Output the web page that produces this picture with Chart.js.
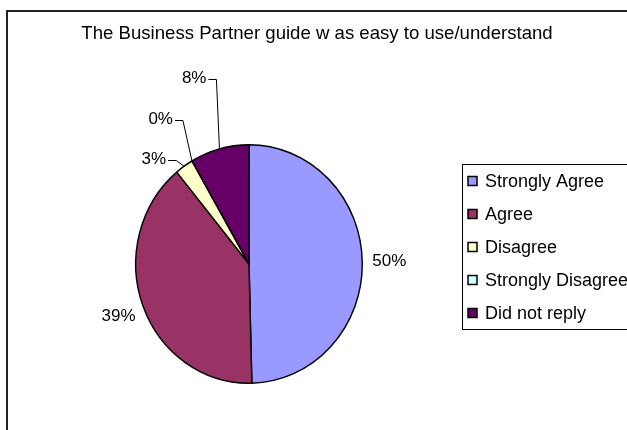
<!DOCTYPE html>
<html>
<head>
<meta charset="utf-8">
<script src="https://cdn.jsdelivr.net/npm/chart.js@4"></script>
<style>
html, body { margin: 0; padding: 0; background: #fff; }
#wrap { width: 627px; height: 430px; }
</style>
</head>
<body>
<div id="wrap"><canvas id="pie-chart" width="627" height="430"></canvas></div>
<script>
const categories = ["Strongly Agree", "Agree", "Disagree", "Strongly Disagree", "Did not reply"];
const shares = [49.6, 39.4, 2.6, 0, 8.4];
const sliceColors = ["#9999FF", "#993366", "#FFFFCC", "#CCFFFF", "#660066"];
const chartTitle = "The Business Partner guide w as easy to use/understand";

const FONT = "Arial, 'Liberation Sans', sans-serif";
const squash = 0.95; // the pie in the original is a little narrower than it is tall

const excelLook = {
	id: "excelLook",
	beforeDraw(chart) {
		const ctx = chart.ctx;
		ctx.save();
		ctx.fillStyle = "#fff";
		ctx.fillRect(0, 0, chart.width, chart.height);
		// chart frame, only left and top edges are inside the picture
		ctx.strokeStyle = "#222";
		ctx.lineWidth = 2;
		ctx.beginPath();
		ctx.moveTo(7, chart.height + 5);
		ctx.lineTo(7, 11);
		ctx.lineTo(chart.width + 5, 11);
		ctx.stroke();
		ctx.fillStyle = "#000";
		ctx.font = "18.6px " + FONT;
		ctx.textAlign = "center";
		ctx.textBaseline = "alphabetic";
		ctx.fillText(chartTitle, 317, 39);
		ctx.restore();
	},
	beforeDatasetsDraw(chart) {
		const { ctx, chartArea } = chart;
		const cx = (chartArea.left + chartArea.right) / 2;
		ctx.save();
		ctx.translate(cx, 0);
		ctx.scale(squash, 1);
		ctx.translate(-cx, 0);
	},
	afterDatasetsDraw(chart) {
		chart.ctx.restore();
	},
	afterDraw(chart, args, opts) {
		const ctx = chart.ctx;
		const meta = chart.getDatasetMeta(0);
		const total = shares.reduce((a, b) => a + b, 0);
		ctx.save();
		ctx.font = "17px " + FONT;
		ctx.fillStyle = "#000";
		ctx.strokeStyle = "#000";
		ctx.lineWidth = 1;

		// value labels
		meta.data.forEach((arc, i) => {
			const p = arc.getProps(["x", "y", "startAngle", "endAngle", "outerRadius"], true);
			const mid = (p.startAngle + p.endAngle) / 2;
			const cos = Math.cos(mid);
			const sin = Math.sin(mid);
			const ax = p.x + cos * p.outerRadius * squash;
			const ay = p.y + sin * p.outerRadius;
			const text = Math.round((shares[i] / total) * 100) + "%";
			const leader = opts.leaders[i];
			if (leader) {
				const right = ax + leader[0];
				const ty = ay + leader[1];
				ctx.textAlign = "right";
				ctx.textBaseline = "middle";
				ctx.fillText(text, right, ty);
				ctx.beginPath();
				ctx.moveTo(right + 2, Math.round(ty) + 1.5);
				ctx.lineTo(right + 10, Math.round(ty) + 1.5);
				ctx.lineTo(ax, ay);
				ctx.stroke();
			} else {
				const nudge = opts.nudges[i] || [0, 0];
				ctx.textAlign = cos >= 0 ? "left" : "right";
				ctx.textBaseline = "middle";
				ctx.fillText(text, ax + cos * opts.gap + nudge[0], ay + sin * opts.gap + nudge[1]);
			}
		});

		// legend with a frame, drawn from the categories and colours
		const lg = opts.legend;
		ctx.strokeRect(lg.left + 0.5, lg.top + 0.5, 300, lg.height);
		ctx.font = "18px " + FONT;
		ctx.textAlign = "left";
		ctx.textBaseline = "alphabetic";
		categories.forEach((name, i) => {
			const cy = lg.firstRow + i * lg.rowStep;
			ctx.fillStyle = sliceColors[i];
			ctx.fillRect(lg.left + 6, cy - 4.5, 9, 9);
			ctx.lineWidth = 1.5;
			ctx.strokeRect(lg.left + 6, cy - 4.5, 9, 9);
			ctx.fillStyle = "#000";
			ctx.fillText(name, lg.left + 23, cy + 5.5);
		});
		ctx.restore();
	}
};

const pieData = {
	labels: categories,
	datasets: [
		{
			data: shares,
			backgroundColor: sliceColors,
			borderColor: "#000",
			borderWidth: 1.5
		}
	]
};

const pieOptions = {
	responsive: false,
	animation: false,
	layout: {
		padding: { left: 129, right: 258, top: 144, bottom: 46 }
	},
	plugins: {
		legend: { display: false },
		title: { display: false },
		tooltip: { enabled: false },
		excelLook: {
			gap: 10,
			nudges: [[0, -1], [2, 7], null, null, null],
			leaders: [null, null, [-18, -7], [-19, -42], [-13, -71]],
			legend: { left: 462, top: 164, height: 165, firstRow: 181, rowStep: 33 }
		}
	}
};

const pieContext = document.getElementById("pie-chart").getContext("2d");
const pieChart = new Chart(pieContext, {
	type: "pie",
	data: pieData,
	options: pieOptions,
	plugins: [excelLook]
});
</script>
</body>
</html>
